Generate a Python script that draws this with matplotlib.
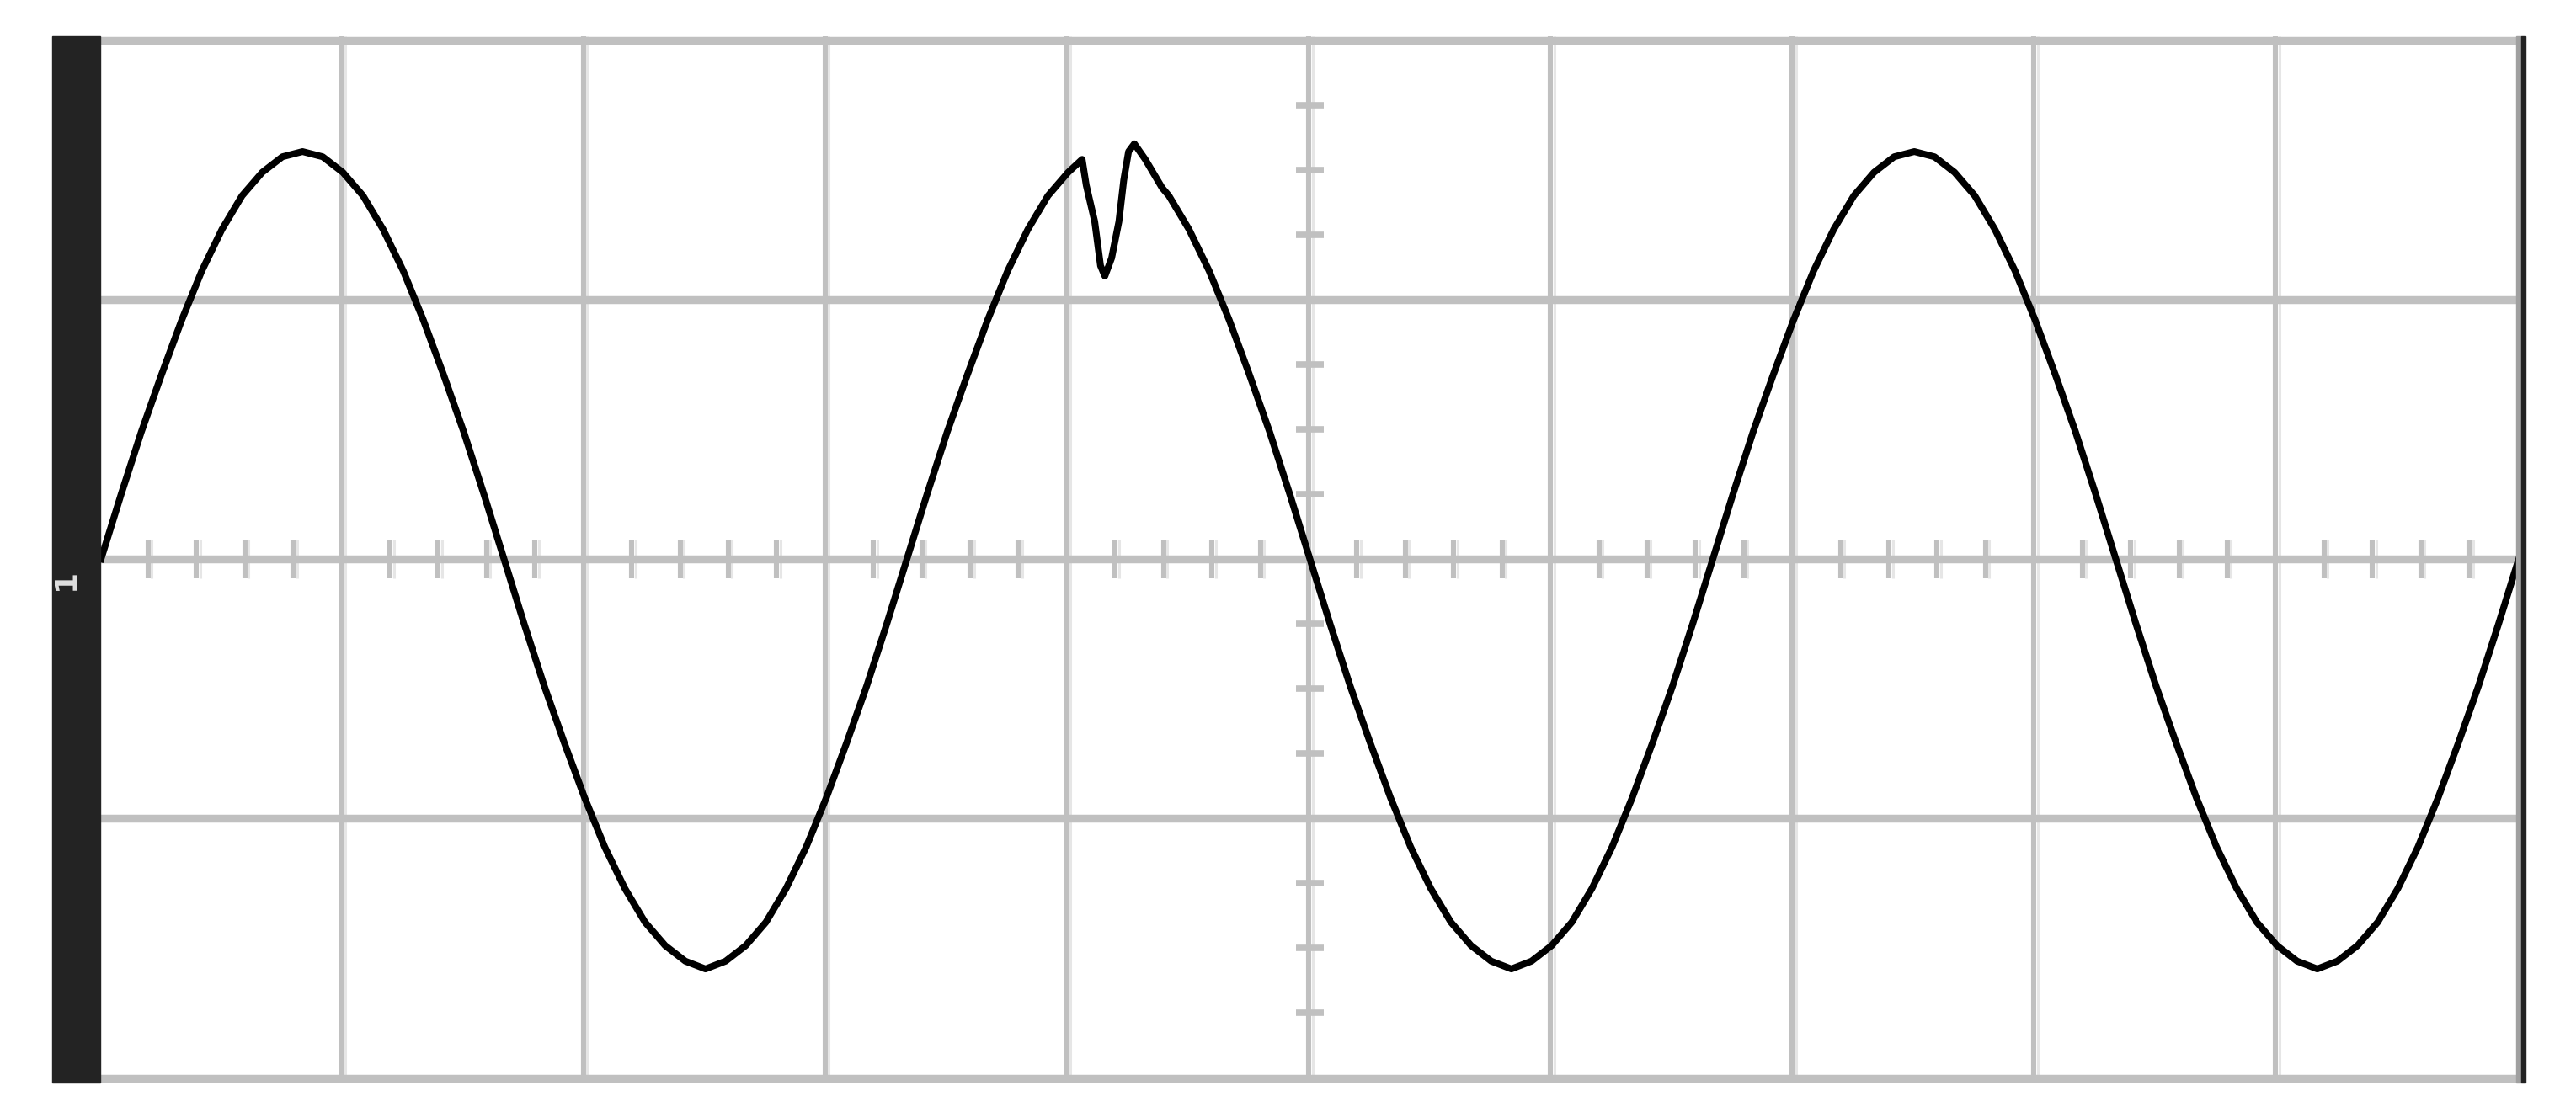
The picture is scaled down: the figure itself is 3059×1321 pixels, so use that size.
import numpy as np
import matplotlib
matplotlib.use('Agg')
import matplotlib.pyplot as plt
from matplotlib.patches import Rectangle

'''
oscilloscope screen capture: sine trace, 3 periods over 10 divisions, with a glitch near the second peak
'''

# trace samples (divisions), 12 samples per horizontal division
trace = [
    0.00, 0.25, 0.49, 0.71, 0.92, 1.11, 1.27, 1.40, 1.49, 1.55,
    1.57, 1.55, 1.49, 1.40, 1.27, 1.11, 0.92, 0.71, 0.49, 0.25,
    0.00, -0.25, -0.49, -0.71, -0.92, -1.11, -1.27, -1.40, -1.49, -1.55,
    -1.58, -1.55, -1.49, -1.40, -1.27, -1.11, -0.92, -0.71, -0.49, -0.25,
    0.00, 0.25, 0.49, 0.71, 0.92, 1.11, 1.27, 1.40, 1.49, 1.55,
    1.57, 1.55, 1.49, 1.40, 1.27, 1.11, 0.92, 0.71, 0.49, 0.25,
    0.00, -0.25, -0.49, -0.71, -0.92, -1.11, -1.27, -1.40, -1.49, -1.55,
    -1.58, -1.55, -1.49, -1.40, -1.27, -1.11, -0.92, -0.71, -0.49, -0.25,
    0.00, 0.25, 0.49, 0.71, 0.92, 1.11, 1.27, 1.40, 1.49, 1.55,
    1.57, 1.55, 1.49, 1.40, 1.27, 1.11, 0.92, 0.71, 0.49, 0.25,
    0.00, -0.25, -0.49, -0.71, -0.92, -1.11, -1.27, -1.40, -1.49, -1.55,
    -1.58, -1.55, -1.49, -1.40, -1.27, -1.11, -0.92, -0.71, -0.49, -0.25,
    0.00,
]
samples_per_div = 12

# glitch on the second positive peak (time in div, value in div)
glitch_t = [4.058, 4.075, 4.110, 4.134, 4.152, 4.180, 4.210, 4.230, 4.250, 4.274, 4.319, 4.389]
glitch_v = [1.54, 1.44, 1.30, 1.13, 1.09, 1.16, 1.30, 1.46, 1.57, 1.60, 1.54, 1.43]

W, H = 3059, 1321
grid_col = '#c0c0c0'
grid_hi = '#e6e6e6'
px = 1 / 287.1  # one pixel in x divisions

fig = plt.figure(figsize=(W / 100, H / 100), dpi=100)
fig.patch.set_facecolor('white')
# screen area: x=0 at 120px, x=10 at 2991px, y=+2 at 47.5px, y=-2 at 1280.5px
ax = fig.add_axes([120 / W, (H - 1280.5) / H, 2871 / W, 1233 / H])
ax.set_xlim(0, 10)
ax.set_ylim(-2, 2)
ax.axis('off')

##graticule
# vertical lines are two-tone: grey left part, pale right part
for gx in range(1, 10):
    ax.plot([gx - 1.5 * px] * 2, [-2.015, 2.015], color=grid_col, lw=4.4, solid_capstyle='butt', clip_on=False, zorder=1)
    ax.plot([gx + 3 * px] * 2, [-2.015, 2.015], color=grid_hi, lw=2.2, solid_capstyle='butt', clip_on=False, zorder=1)
for gy in range(-2, 3):
    ax.plot([-0.004, 10.01], [gy, gy], color=grid_col, lw=6.8, solid_capstyle='butt', clip_on=False, zorder=1.5)

# minor ticks on the centre axes
xt = np.arange(0.2, 10, 0.2)
xt = xt[np.abs(xt - np.round(xt)) > 0.01]
ax.vlines(xt - 1.5 * px, -0.075, 0.075, color=grid_col, lw=4.4, zorder=1)
ax.vlines(xt + 3 * px, -0.075, 0.075, color=grid_hi, lw=2.2, zorder=1)
yt = np.arange(-1.75, 2, 0.25)
yt = yt[np.abs(yt - np.round(yt)) > 0.01]
ax.hlines(yt, 5 - 0.058, 5 + 0.058, color=grid_col, lw=5.5, zorder=1)

##trace
t = np.arange(len(trace)) / samples_per_div
v = np.array(trace)
keep = (t < glitch_t[0]) | (t > glitch_t[-1])
tt = np.concatenate([t[keep], glitch_t])
vv = np.concatenate([v[keep], glitch_v])
order = np.argsort(tt)
ax.plot(tt[order], vv[order], color='black', lw=5.8, clip_on=False, zorder=3)

##screen edges
fig.add_artist(Rectangle((62 / W, (H - 1286) / H), 57 / W, 1243 / H,
                         transform=fig.transFigure, color='#232323', zorder=5))
fig.add_artist(Rectangle((2988 / W, (H - 1286) / H), 6 / W, 1243 / H,
                         transform=fig.transFigure, color='#a0a0a0', zorder=5))
fig.add_artist(Rectangle((2994 / W, (H - 1286) / H), 5 / W, 1243 / H,
                         transform=fig.transFigure, color='#222222', zorder=5))
# channel ground marker
fig.text(78 / W, (H - 688) / H, '1', color='#e0e0e0', fontsize=26, fontweight='bold',
         rotation=90, ha='center', va='center', zorder=6)

fig.savefig('out.png', dpi=100)
